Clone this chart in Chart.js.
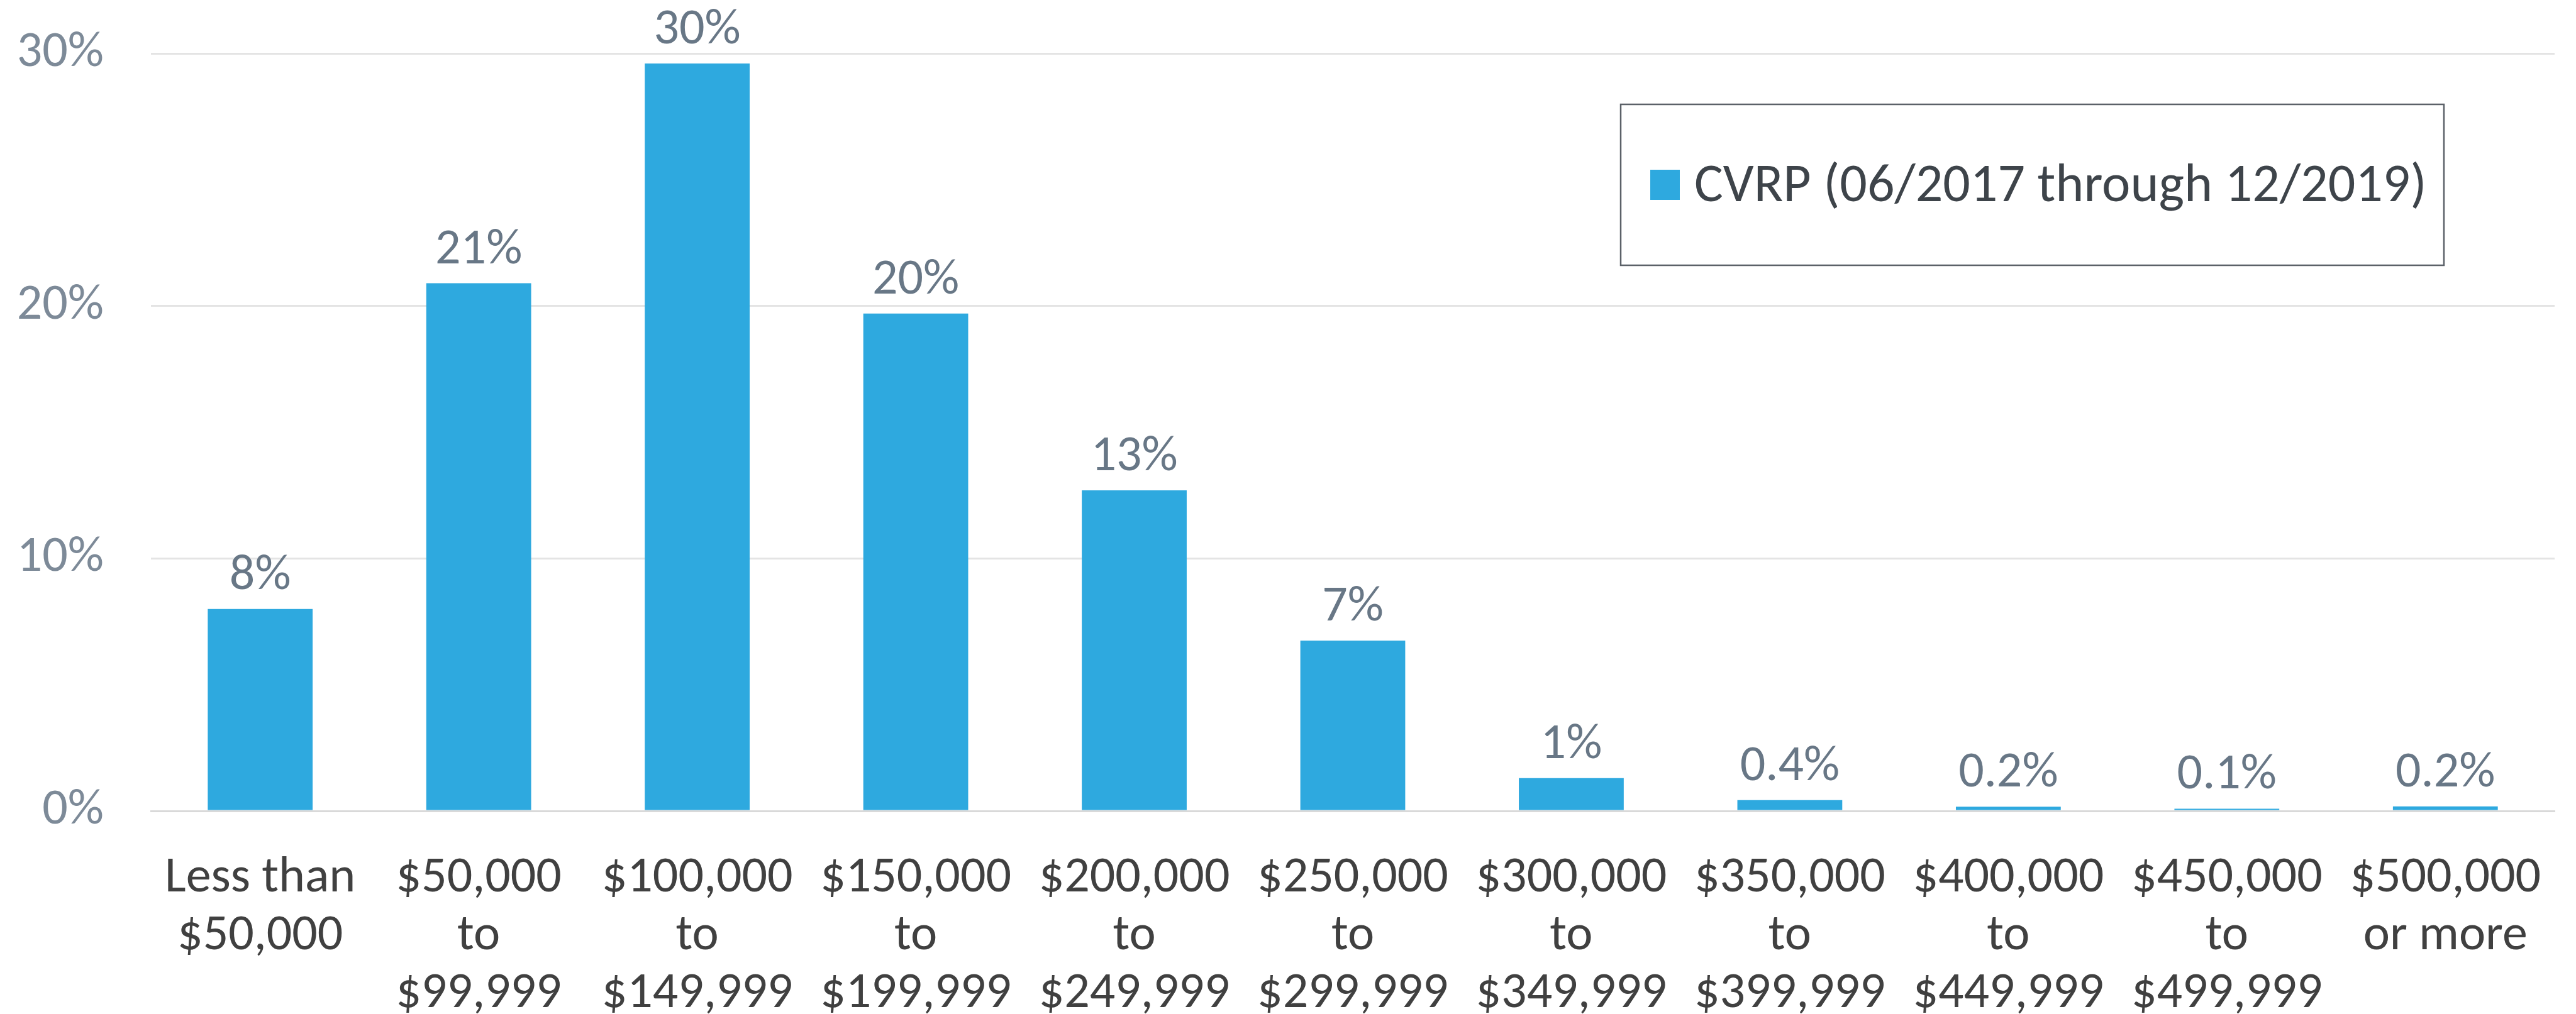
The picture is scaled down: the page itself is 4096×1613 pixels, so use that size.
<!DOCTYPE html>
<html>
<head>
<meta charset="utf-8">
<script src="https://cdn.jsdelivr.net/npm/chart.js@4/dist/chart.umd.min.js"></script>
<style>
    html, body { margin: 0; padding: 0; background: #fff; }
    #wrap { width: 4096px; height: 1613px; }
</style>
</head>
<body>
<div id="wrap"><canvas id="incomeChart" width="4096" height="1613"></canvas></div>
<script>
const categories = [
    ["Less than", "$50,000"],
    ["$50,000", "to", "$99,999"],
    ["$100,000", "to", "$149,999"],
    ["$150,000", "to", "$199,999"],
    ["$200,000", "to", "$249,999"],
    ["$250,000", "to", "$299,999"],
    ["$300,000", "to", "$349,999"],
    ["$350,000", "to", "$399,999"],
    ["$400,000", "to", "$449,999"],
    ["$450,000", "to", "$499,999"],
    ["$500,000", "or more"]
];
const shares = [8.0, 20.9, 29.6, 19.7, 12.7, 6.75, 1.3, 0.43, 0.17, 0.09, 0.18];
const shareLabels = ["8%", "21%", "30%", "20%", "13%", "7%", "1%", "0.4%", "0.2%", "0.1%", "0.2%"];
const yTicks = [0, 10, 20, 30];
const seriesName = "CVRP (06/2017 through 12/2019)";

const FONT = "Carlito, Calibri, 'Open Sans', sans-serif";
const BLUE = '#2EA9DF';

// value labels over each bar
const barLabels = {
    id: 'barLabels',
    afterDatasetsDraw(chart) {
        const ctx = chart.ctx;
        const meta = chart.getDatasetMeta(0);
        ctx.save();
        ctx.font = `80px ${FONT}`;
        ctx.fillStyle = '#687786';
        ctx.textAlign = 'center';
        ctx.textBaseline = 'alphabetic';
        meta.data.forEach((bar, i) => {
            ctx.fillText(shareLabels[i], bar.x, bar.y - 32);
        });
        ctx.restore();
    }
};

// boxed legend inside the plot, like the original
const boxLegend = {
    id: 'boxLegend',
    afterDraw(chart) {
        const ctx = chart.ctx;
        const ds = chart.data.datasets[0];
        ctx.save();
        ctx.strokeStyle = '#5b6168';
        ctx.lineWidth = 2.5;
        ctx.fillStyle = '#fff';
        ctx.fillRect(2577, 166, 1309, 256);
        ctx.strokeRect(2577, 166, 1309, 256);
        ctx.fillStyle = ds.backgroundColor;
        ctx.fillRect(2624, 270, 47, 48);
        ctx.font = `86px ${FONT}`;
        ctx.fillStyle = '#3e444a';
        ctx.textAlign = 'left';
        ctx.textBaseline = 'alphabetic';
        ctx.fillText(ds.label, 2694, 320);
        ctx.restore();
    }
};

new Chart(document.getElementById('incomeChart'), {
    type: 'bar',
    data: {
        labels: categories,
        datasets: [{
            label: seriesName,
            data: shares,
            backgroundColor: BLUE,
            barPercentage: 0.48,
            categoryPercentage: 1.0
        }]
    },
    options: {
        responsive: false,
        devicePixelRatio: 1,
        animation: false,
        layout: { padding: { top: 85, right: 34, left: 0, bottom: 0 } },
        plugins: {
            legend: { display: false },
            tooltip: { enabled: false }
        },
        scales: {
            x: {
                grid: { display: false },
                border: { display: true, color: '#d9d9d9', width: 3 },
                ticks: {
                    color: '#404040',
                    font: { family: FONT, size: 80, lineHeight: 1.15 },
                    padding: 54,
                    maxRotation: 0,
                    autoSkip: false
                },
                afterFit(scale) { scale.height = 323; }
            },
            y: {
                min: 0,
                max: 30,
                afterBuildTicks(scale) { scale.ticks = yTicks.map(v => ({value: v})); },
                grid: { color: '#e4e4e4', lineWidth: 3, drawTicks: false },
                border: { display: false },
                ticks: {
                    color: '#7d8a98',
                    font: { family: FONT, size: 80 },
                    padding: 75,
                    callback: v => v + '%'
                },
                afterFit(scale) {
                    scale.width = 240;
                    scale.paddingTop = 0;
                    scale.paddingBottom = 0;
                }
            }
        }
    },
    plugins: [barLabels, boxLegend]
});
</script>
</body>
</html>
